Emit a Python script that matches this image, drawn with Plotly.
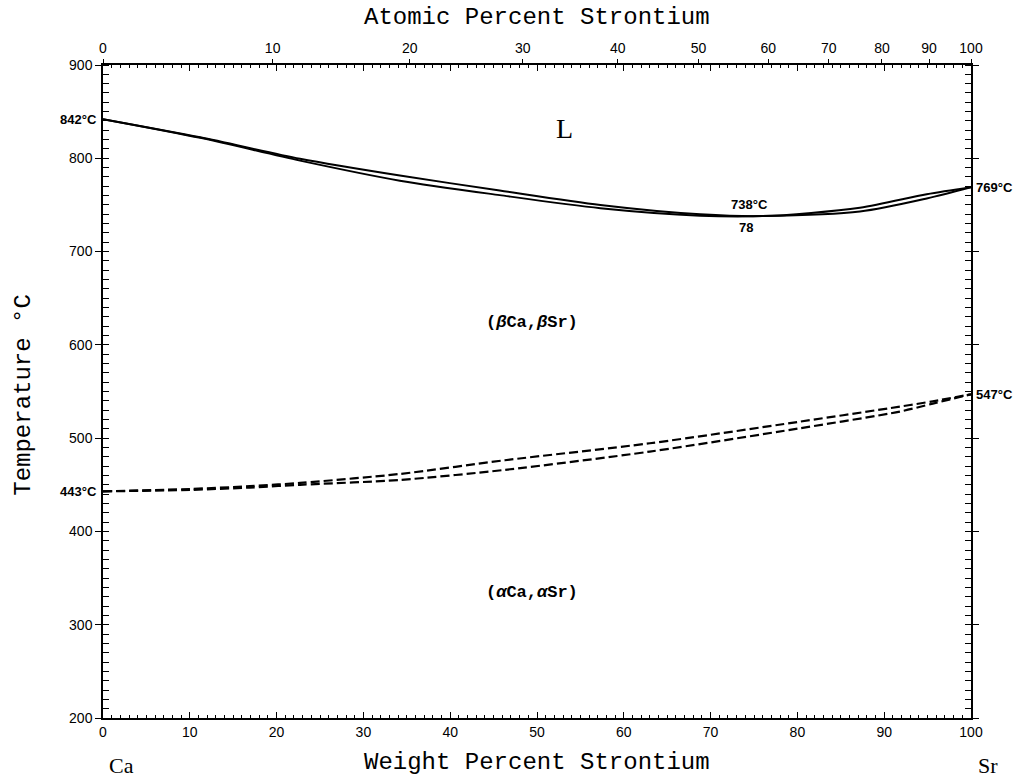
import plotly.graph_objects as go

# ---- data ----
liq_wt = [0, 11.2, 22.7, 34.2, 45.7, 57.3, 68.8, 76, 87.2, 94.9, 100]
liq_T = [842, 822.5, 799.5, 781.5, 765.5, 750, 740, 738, 747, 761.5, 769]
sol_wt = [0, 11.2, 22.7, 34.2, 45.7, 57.3, 68.8, 76, 87.2, 94.9, 100]
sol_T = [842, 822, 797.5, 776, 760.5, 746.5, 738.5, 738, 743, 757, 769]

tr_up_wt = [0, 10, 16.9, 22.7, 34.2, 46.3, 63, 80.3, 91.8, 95.6, 100]
tr_up_T = [443, 445.5, 448.5, 452, 461.6, 476.3, 494.5, 517.7, 533.8, 539.5, 547]
tr_lo_wt = [0, 10, 16.9, 22.7, 34.2, 46.3, 63, 80.3, 91.8, 95.6, 100]
tr_lo_T = [443, 444.5, 447, 450, 455.2, 466, 485.6, 510.6, 528.5, 537, 547]

wt_ticks = [0, 10, 20, 30, 40, 50, 60, 70, 80, 90, 100]
T_ticks = [200, 300, 400, 500, 600, 700, 800, 900]
at_ticks = [0, 10, 20, 30, 40, 50, 60, 70, 80, 90, 100]

M_CA, M_SR = 40.08, 87.62


def at_to_wt(a):
    return 100.0 * a * M_SR / (a * M_SR + (100 - a) * M_CA)


at_tickvals = [at_to_wt(a) for a in at_ticks]

fig = go.Figure()
line_kw = dict(color="black", width=2, shape="spline", smoothing=0.8)
fig.add_trace(go.Scatter(x=liq_wt, y=liq_T, mode="lines", line=line_kw, hoverinfo="skip"))
fig.add_trace(go.Scatter(x=sol_wt, y=sol_T, mode="lines", line=line_kw, hoverinfo="skip"))
dash_kw = dict(color="black", width=2.2, dash="9px,4px", shape="spline", smoothing=0.8)
fig.add_trace(go.Scatter(x=tr_up_wt, y=tr_up_T, mode="lines", line=dash_kw, hoverinfo="skip"))
fig.add_trace(go.Scatter(x=tr_lo_wt, y=tr_lo_T, mode="lines", line=dash_kw, hoverinfo="skip"))
# invisible trace to anchor the top (atomic percent) axis
fig.add_trace(go.Scatter(x=[0, 100], y=[200, 200], xaxis="x2", mode="lines",
                         line=dict(width=0), opacity=0, hoverinfo="skip"))

tickfont = dict(family="Liberation Sans, Arial, sans-serif", size=14, color="black")
mono = "Liberation Mono, Courier New, monospace"
serif = "Liberation Serif, Times New Roman, serif"
lab = dict(family="Liberation Sans, Arial, sans-serif", size=13, color="black", weight="bold")

fig.update_layout(
    width=1029, height=779,
    margin=dict(l=103, r=58, t=65, b=61),
    paper_bgcolor="white", plot_bgcolor="white",
    showlegend=False,
    xaxis=dict(range=[0, 100], tickvals=wt_ticks, ticks="inside", ticklen=6, tickwidth=1.3,
               tickcolor="black", showline=True, linecolor="black", linewidth=1.5,
               mirror="allticks", showgrid=False, zeroline=False, tickfont=tickfont,
               minor=dict(dtick=1, ticks="inside", ticklen=3, tickcolor="black", tickwidth=1)),
    xaxis2=dict(range=[0, 100], overlaying="x", side="top", anchor="y",
                tickvals=at_tickvals, ticktext=[str(a) for a in at_ticks],
                ticks="outside", ticklen=5, tickwidth=1.3, tickcolor="black",
                showgrid=False, zeroline=False, showline=False, tickfont=tickfont),
    yaxis=dict(range=[200, 900], tickvals=T_ticks, ticks="outside", ticklen=6, tickwidth=1.3,
               tickcolor="black", showline=True, linecolor="black", linewidth=1.5,
               mirror="allticks", showgrid=False, zeroline=False, tickfont=tickfont,
               minor=dict(dtick=10, ticks="inside", ticklen=3, tickcolor="black", tickwidth=1)),
)

ann = []
# axis titles
ann.append(dict(text="Atomic Percent Strontium", xref="paper", yref="paper", x=0.5, y=1.072,
                showarrow=False, font=dict(family=mono, size=24, color="black"),
                xanchor="center", yanchor="middle"))
ann.append(dict(text="Weight Percent Strontium", xref="paper", yref="paper", x=0.5, y=-0.068,
                showarrow=False, font=dict(family=mono, size=24, color="black"),
                xanchor="center", yanchor="middle"))
ann.append(dict(text="Temperature °C", xref="paper", yref="paper", x=-0.091, y=0.495,
                showarrow=False, textangle=-90, font=dict(family=mono, size=24, color="black"),
                xanchor="center", yanchor="middle"))
ann.append(dict(text="Ca", xref="paper", yref="paper", x=0.021, y=-0.072, showarrow=False,
                font=dict(family=serif, size=22, color="black"),
                xanchor="center", yanchor="middle"))
ann.append(dict(text="Sr", xref="paper", yref="paper", x=1.02, y=-0.072, showarrow=False,
                font=dict(family=serif, size=22, color="black"),
                xanchor="center", yanchor="middle"))
# phase labels
ann.append(dict(text="L", x=53.2, y=832, showarrow=False,
                font=dict(family=serif, size=28, color="black")))
ann.append(dict(text="(<i>β</i>Ca,<i>β</i>Sr)", x=49.4, y=624.5, showarrow=False,
                font=dict(family=mono, size=17, color="black", weight="bold")))
ann.append(dict(text="(<i>α</i>Ca,<i>α</i>Sr)", x=49.4, y=335, showarrow=False,
                font=dict(family=mono, size=17, color="black", weight="bold")))
ann.append(dict(text="738°C", x=74.5, y=750, showarrow=False, font=lab))
ann.append(dict(text="78", x=74.1, y=726, showarrow=False, font=lab))
# endpoint temperatures
for txt, T in [("842°C", 842), ("443°C", 443)]:
    ann.append(dict(text=txt, xref="paper", x=0, y=T, xanchor="right", xshift=-4,
                    showarrow=False, font=lab))
for txt, T in [("769°C", 769), ("547°C", 547)]:
    ann.append(dict(text=txt, xref="paper", x=1, y=T, xanchor="left", xshift=3,
                    showarrow=False, font=lab))

fig.update_layout(annotations=ann)
fig.write_html(
    "out.html",
    config={"displayModeBar": False},
    post_script="document.body.style.margin='0';document.body.style.overflow='hidden';",
)
